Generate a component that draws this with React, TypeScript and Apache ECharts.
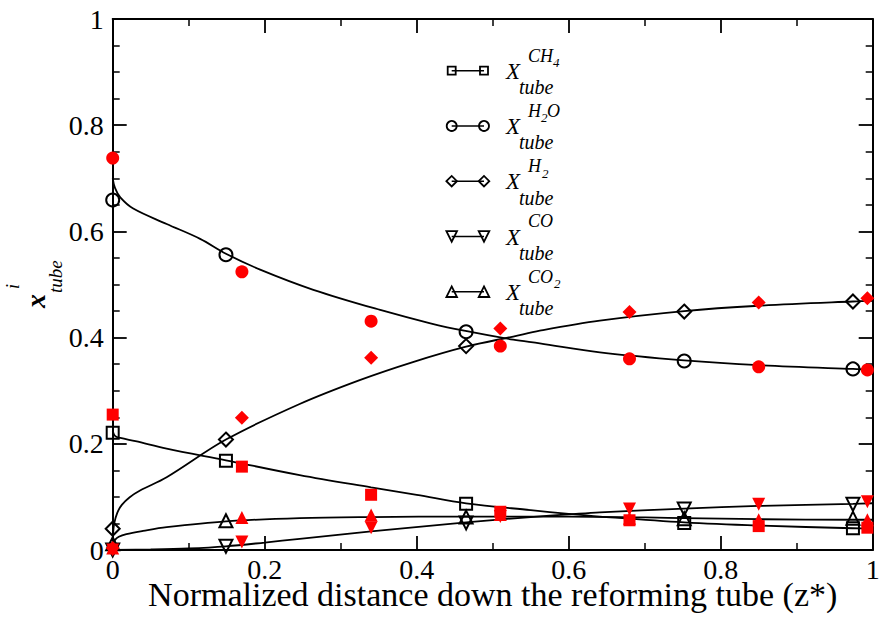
import { useEffect, useRef } from "react";
import * as echarts from "echarts";

type Pt = [number, number];

// Model profiles along the reformer tube: [z*, mole fraction]
const ch4Curve: Pt[] = [
  [0, 0.224], [0.003, 0.215], [0.01, 0.211], [0.03, 0.205], [0.071, 0.191],
  [0.149, 0.169], [0.246, 0.141], [0.34, 0.118], [0.4, 0.104], [0.465, 0.088],
  [0.55, 0.075], [0.6, 0.068], [0.641, 0.063], [0.752, 0.052], [0.85, 0.046],
  [0.974, 0.041], [1, 0.04],
];
const h2oCurve: Pt[] = [
  [0, 0.7], [0.003, 0.682], [0.01, 0.664], [0.027, 0.643], [0.071, 0.614],
  [0.115, 0.586], [0.149, 0.558], [0.194, 0.528], [0.264, 0.49], [0.352, 0.452],
  [0.418, 0.427], [0.466, 0.412], [0.527, 0.396], [0.562, 0.389], [0.641, 0.372],
  [0.752, 0.357], [0.85, 0.348], [0.974, 0.341], [1, 0.34],
];
const h2Curve: Pt[] = [
  [0, 0], [0.0005, 0.03], [0.002, 0.05], [0.006, 0.07], [0.012, 0.085],
  [0.022, 0.099], [0.036, 0.112], [0.071, 0.137], [0.149, 0.208], [0.246, 0.275],
  [0.325, 0.32], [0.395, 0.354], [0.465, 0.383], [0.527, 0.402], [0.562, 0.413],
  [0.641, 0.432], [0.752, 0.45], [0.85, 0.46], [0.974, 0.468], [1, 0.469],
];
const coCurve: Pt[] = [
  [0, 0], [0.05, 0.001], [0.1, 0.003], [0.149, 0.007], [0.2, 0.014],
  [0.246, 0.021], [0.34, 0.035], [0.465, 0.052], [0.55, 0.062], [0.6, 0.067],
  [0.641, 0.071], [0.752, 0.078], [0.85, 0.083], [0.974, 0.087], [1, 0.088],
];
const co2Curve: Pt[] = [
  [0, 0], [0.001, 0.012], [0.003, 0.019], [0.008, 0.025], [0.018, 0.03],
  [0.04, 0.036], [0.071, 0.043], [0.149, 0.054], [0.246, 0.06], [0.34, 0.062],
  [0.465, 0.063], [0.6, 0.063], [0.752, 0.06], [0.85, 0.058], [0.974, 0.057],
  [1, 0.057],
];

// Open markers sitting on the model profiles
const modelZ = [0, 0.149, 0.465, 0.752, 0.974];
const ch4Model = [0.221, 0.168, 0.087, 0.051, 0.041];
const h2oModel = [0.659, 0.556, 0.411, 0.356, 0.341];
const h2Model = [0.04, 0.208, 0.384, 0.449, 0.468];
const coModel = [0.0, 0.007, 0.051, 0.077, 0.086];
const co2Model = [0.012, 0.055, 0.062, 0.059, 0.06];

// Filled red points
const refZ = [0, 0.17, 0.34, 0.51, 0.68, 0.85, 0.993];
const ch4Ref = [0.255, 0.157, 0.104, 0.072, 0.056, 0.045, 0.042];
const h2oRef = [0.738, 0.524, 0.431, 0.384, 0.36, 0.345, 0.339];
const h2Ref = [0.004, 0.249, 0.362, 0.417, 0.448, 0.466, 0.474];
const coRef = [0.0, 0.015, 0.042, 0.063, 0.077, 0.086, 0.091];
const co2Ref = [0.004, 0.061, 0.066, 0.067, 0.06, 0.057, 0.057];

// Superscript pieces of each legend label: [text, dx, lowered digit?]
const ch4Label: [string, number, boolean][] = [["CH", 0, false], ["4", 25, true]];
const h2oLabel: [string, number, boolean][] = [["H", 0, false], ["2", 13, true], ["O", 19, false]];
const h2Label: [string, number, boolean][] = [["H", 0, false], ["2", 14, true]];
const coLabel: [string, number, boolean][] = [["CO", 0, false]];
const co2Label: [string, number, boolean][] = [["CO", 0, false], ["2", 26, true]];

const xTitle = "Normalized distance down the reforming tube (z*)";

const FONT = '"Liberation Serif", "Times New Roman", serif';

const species = [
  { curve: ch4Curve, model: ch4Model, ref: ch4Ref, label: ch4Label, symbol: "rect", size: 12, rot: 0, key: "square" },
  { curve: h2oCurve, model: h2oModel, ref: h2oRef, label: h2oLabel, symbol: "circle", size: 13, rot: 0, key: "circle" },
  { curve: h2Curve, model: h2Model, ref: h2Ref, label: h2Label, symbol: "diamond", size: 14, rot: 0, key: "diamond" },
  { curve: coCurve, model: coModel, ref: coRef, label: coLabel, symbol: "triangle", size: 13, rot: 180, key: "down" },
  { curve: co2Curve, model: co2Model, ref: co2Ref, label: co2Label, symbol: "triangle", size: 13, rot: 0, key: "up" },
];

function txt(text: string, x: number, baseline: number, size: number, extra: any = {}) {
  const align = extra.align || "left";
  return {
    type: "text",
    x,
    y: baseline - 0.34 * size,
    silent: true,
    style: {
      text,
      fontSize: size,
      fontFamily: FONT,
      fontStyle: extra.upright ? "normal" : "italic",
      fontWeight: extra.weight || "normal",
      lineHeight: extra.lineHeight || size,
      fill: "#000",
      align,
      textAlign: align,
      verticalAlign: "middle",
      textVerticalAlign: "middle",
    },
  };
}

function legendShape(key: string, cx: number, cy: number) {
  const st = { fill: "none", stroke: "#000", lineWidth: 1.8 };
  const h = 5.3;
  if (key === "square") return { type: "rect", shape: { x: cx - 4, y: cy - 4, width: 8, height: 8 }, style: st, silent: true };
  if (key === "circle") return { type: "circle", shape: { cx, cy, r: 5 }, style: st, silent: true };
  if (key === "diamond")
    return { type: "polygon", shape: { points: [[cx - h, cy], [cx, cy - h], [cx + h, cy], [cx, cy + h]] }, style: st, silent: true };
  if (key === "down")
    return { type: "polygon", shape: { points: [[cx - h, cy - h], [cx + h, cy - h], [cx, cy + h]] }, style: st, silent: true };
  return { type: "polygon", shape: { points: [[cx, cy - h], [cx + h, cy + h], [cx - h, cy + h]] }, style: st, silent: true };
}

function buildLegend() {
  const els: any[] = [];
  const x1 = 451.7;
  const x2 = 484;
  species.forEach((s, i) => {
    const yR = 70.7 + i * 55.25;
    els.push({ type: "line", shape: { x1, y1: yR, x2, y2: yR }, style: { stroke: "#000", lineWidth: 1.6 }, silent: true });
    els.push(legendShape(s.key, x1, yR));
    els.push(legendShape(s.key, x2, yR));
    els.push(txt("X", 506, yR + 8.6, 23));
    els.push(txt("tube", 519, yR + 23.3, 20));
    s.label.forEach(([t, dx, low]) => {
      if (low) els.push(txt(t, 528 + dx, yR - 3.7, 13));
      else els.push(txt(t, 528 + dx, yR - 9, 18));
    });
  });
  return els;
}

function yAxisTitle() {
  return {
    type: "group",
    x: 45,
    y: 308,
    rotation: Math.PI / 2,
    silent: true,
    children: [
      txt("x", 0, 0, 28, { weight: "bold" }),
      txt("i", 19, -26, 18),
      txt("tube", 15, 17, 19),
    ],
  };
}

export default function App() {
  const ref = useRef<HTMLDivElement>(null);

  useEffect(() => {
    if (!ref.current) return;
    const chart = echarts.init(ref.current, undefined, { renderer: "svg" });

    const axisLine = { show: true, onZero: false, lineStyle: { color: "#000", width: 2 } };
    const tick = { show: true, inside: true, length: 14, lineStyle: { color: "#000", width: 1.8 } };
    const minor = { show: true, length: 7, lineStyle: { color: "#000", width: 1.5 } };
    const labelStyle = { fontFamily: FONT, fontSize: 28, color: "#000" };

    const series: any[] = [];
    species.forEach((s) => {
      series.push({
        type: "line",
        data: s.curve,
        smooth: 0.35,
        showSymbol: false,
        symbol: "none",
        lineStyle: { color: "#000", width: 1.8 },
        silent: true,
        z: 2,
      });
    });
    species.forEach((s) => {
      series.push({
        type: "scatter",
        data: modelZ.map((z, i) => [z, s.model[i]]),
        symbol: s.symbol,
        symbolSize: s.size,
        symbolRotate: s.rot,
        clip: false,
        itemStyle: { color: "rgba(0,0,0,0)", borderColor: "#000", borderWidth: 2, opacity: 1 },
        silent: true,
        z: 3,
      });
    });
    species.forEach((s) => {
      series.push({
        type: "scatter",
        data: refZ.map((z, i) => [z, s.ref[i]]),
        symbol: s.symbol,
        symbolSize: s.size,
        symbolRotate: s.rot,
        clip: false,
        itemStyle: { color: "#ff0000", opacity: 1 },
        silent: true,
        z: 4,
      });
    });

    chart.setOption({
      animation: false,
      backgroundColor: "#fff",
      grid: { left: 112.7, right: 6.3, top: 19, bottom: 67, containLabel: false, outerBoundsMode: "none" },
      xAxis: [
        {
          type: "value",
          min: 0,
          max: 1,
          interval: 0.2,
          position: "bottom",
          axisLine,
          axisTick: tick,
          minorTick: { ...minor, splitNumber: 2 },
          splitLine: { show: false },
          axisLabel: { ...labelStyle, lineHeight: 24, margin: 7 },
        },
        {
          type: "value",
          min: 0,
          max: 1,
          interval: 0.2,
          position: "top",
          axisLine,
          axisTick: tick,
          minorTick: { ...minor, splitNumber: 2 },
          splitLine: { show: false },
          axisLabel: { show: false },
        },
      ],
      yAxis: [
        {
          type: "value",
          min: 0,
          max: 1,
          interval: 0.2,
          position: "left",
          axisLine,
          axisTick: tick,
          minorTick: { ...minor, splitNumber: 4 },
          splitLine: { show: false },
          axisLabel: { ...labelStyle, margin: 9 },
        },
        {
          type: "value",
          min: 0,
          max: 1,
          interval: 0.2,
          position: "right",
          axisLine,
          axisTick: tick,
          minorTick: { ...minor, splitNumber: 4 },
          splitLine: { show: false },
          axisLabel: { show: false },
        },
      ],
      series,
      graphic: [
        yAxisTitle(),
        txt(xTitle, 492.7, 606, 34, { upright: true, align: "center", lineHeight: 24 }),
        ...buildLegend(),
      ],
    });

    return () => chart.dispose();
  }, []);

  return (
    <div
      ref={ref}
      style={{ position: "absolute", left: 0, top: 0, width: 879, height: 617, background: "#fff" }}
    />
  );
}
